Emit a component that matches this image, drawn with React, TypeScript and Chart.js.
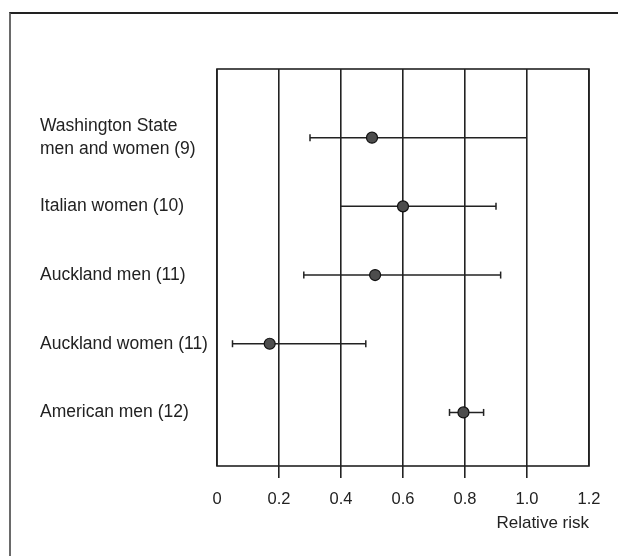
import React, { useEffect, useRef } from "react";
import { Chart, registerables } from "chart.js";

Chart.register(...registerables);

const studies: string[][] = [
  ["Washington State", "men and women (9)"],
  ["Italian women (10)"],
  ["Auckland men (11)"],
  ["Auckland women (11)"],
  ["American men (12)"],
];
const relativeRisk = [0.5, 0.6, 0.51, 0.17, 0.795];
const ciLow = [0.3, 0.4, 0.28, 0.05, 0.75];
const ciHigh = [1.0, 0.9, 0.915, 0.48, 0.86];
const capLow = [true, false, true, true, true];
const capHigh = [false, true, true, true, true];
const xTicks = [0, 0.2, 0.4, 0.6, 0.8, 1.0, 1.2];
const xTickLabels = ["0", "0.2", "0.4", "0.6", "0.8", "1.0", "1.2"];
const xTitle = "Relative risk";

const FONT = "'Liberation Sans', Arial, Helvetica, sans-serif";
const INK = "#222";

export default function App() {
  const ref = useRef<HTMLCanvasElement | null>(null);

  useEffect(() => {
    if (!ref.current) return;
    const rows = studies.map((_, i) => i + 1);

    const ciSets = studies.map((_, i) => ({
      type: "line" as const,
      data: [
        { x: ciLow[i], y: rows[i] },
        { x: ciHigh[i], y: rows[i] },
      ],
      borderColor: INK,
      borderWidth: 1.5,
      pointStyle: "line" as const,
      rotation: 90,
      pointRadius: [capLow[i] ? 3.5 : 0, capHigh[i] ? 3.5 : 0],
      pointBorderColor: INK,
      pointBorderWidth: 1.5,
      pointHoverRadius: 0,
      showLine: true,
      fill: false,
      order: 2,
    }));

    const pointSet = {
      type: "scatter" as const,
      data: relativeRisk.map((v, i) => ({ x: v, y: rows[i] })),
      backgroundColor: "#4d4d4d",
      borderColor: "#111",
      borderWidth: 1.2,
      pointRadius: 5.5,
      pointStyle: "circle" as const,
      order: 1,
    };

    const framePlugin = {
      id: "frame",
      afterDraw(chart: any) {
        const { ctx, chartArea } = chart;
        ctx.save();
        ctx.strokeStyle = INK;
        ctx.lineWidth = 1.6;
        ctx.strokeRect(
          chartArea.left,
          chartArea.top,
          chartArea.right - chartArea.left,
          chartArea.bottom - chartArea.top
        );
        ctx.restore();
      },
    };

    const chart = new Chart(ref.current, {
      type: "scatter",
      data: { datasets: [...ciSets, pointSet] as any },
      plugins: [framePlugin],
      options: {
        animation: false,
        responsive: false,
        events: [],
        layout: { padding: { left: 40, right: 29, top: 69, bottom: 0 } },
        plugins: { legend: { display: false }, tooltip: { enabled: false } },
        scales: {
          x: {
            type: "linear",
            min: 0,
            max: 1.2,
            afterFit(scale: any) {
              scale.height = 90;
            },
            afterBuildTicks(scale: any) {
              scale.ticks = xTicks.map((v) => ({ value: v }));
            },
            ticks: {
              color: "#222",
              font: { family: FONT, size: 16.5 },
              padding: 12,
              maxRotation: 0,
              autoSkip: false,
              callback: (v: any) => {
                const idx = xTicks.findIndex((t) => Math.abs(t - Number(v)) < 1e-6);
                return idx >= 0 ? xTickLabels[idx] : "";
              },
            },
            grid: {
              color: INK,
              lineWidth: 1.6,
              drawTicks: true,
              tickLength: 12,
              tickColor: (ctx: any) => {
                const v = ctx.tick ? ctx.tick.value : 0;
                return v <= 0 || v >= 1.2 ? "rgba(0,0,0,0)" : INK;
              },
            },
            border: { display: false },
            title: {
              display: true,
              text: xTitle,
              align: "end",
              color: "#222",
              font: { family: FONT, size: 17 },
              padding: { top: 0, bottom: 22 },
            },
          },
          y: {
            type: "linear",
            reverse: true,
            min: 0,
            max: 5.78,
            afterFit(scale: any) {
              scale.width = 177;
            },
            afterBuildTicks(scale: any) {
              scale.ticks = rows.map((v) => ({ value: v }));
            },
            ticks: {
              crossAlign: "far",
              color: "#222",
              font: { family: FONT, size: 17.5, lineHeight: 1.28 },
              autoSkip: false,
              callback: (v: any) => {
                const idx = rows.indexOf(Number(v));
                return idx >= 0 ? studies[idx] : "";
              },
            },
            grid: { display: false, drawTicks: false },
            border: { display: false },
          },
        },
      },
    });
    return () => chart.destroy();
  }, []);

  return (
    <div style={{ position: "fixed", left: 0, top: 0, width: 618, height: 556, background: "#fff", overflow: "hidden" }}>
      <div
        style={{
          position: "absolute",
          left: 9,
          top: 12,
          width: 640,
          height: 600,
          borderLeft: "2px solid #6a6a6a",
          borderTop: "2px solid #222",
        }}
      />
      <canvas ref={ref} width={618} height={556} style={{ position: "absolute", left: 0, top: 0 }} />
    </div>
  );
}
